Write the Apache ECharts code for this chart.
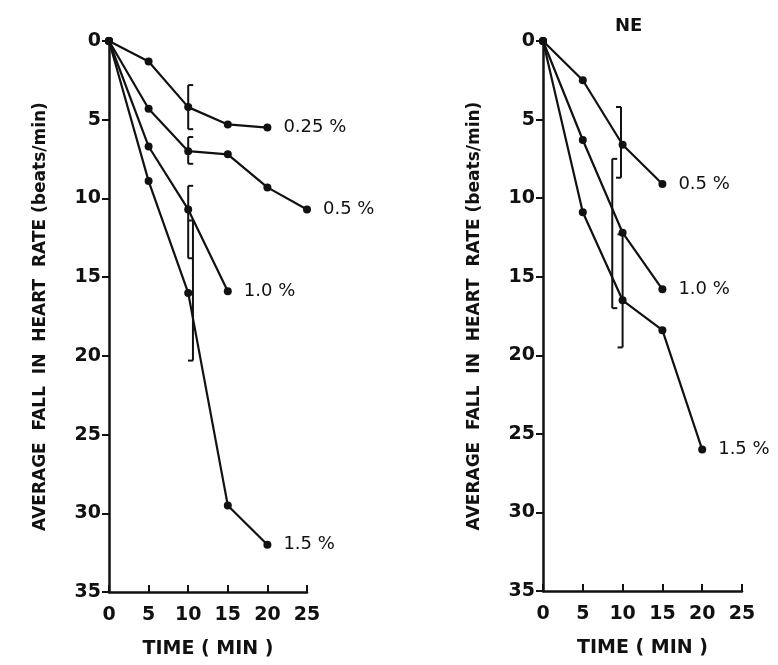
<!DOCTYPE html>
<html>
<head>
<meta charset="utf-8">
<script src="https://cdn.jsdelivr.net/npm/echarts@6/dist/echarts.min.js"></script>
<style>html,body{margin:0;padding:0;background:#fff}#chart{width:778px;height:665px}</style>
</head>
<body>
<div id="chart"></div>
<script>
// left panel
var leftTimes = [0, 5, 10, 15, 20, 25];
var left025 = [0, 1.3, 4.2, 5.3, 5.5];
var left05 = [0, 4.3, 7.0, 7.2, 9.3, 10.7];
var left10 = [0, 6.7, 10.7, 15.9];
var left15 = [0, 8.9, 16.0, 29.5, 32.0];
// error bars: [x, low, high, cap direction]
var leftErr = [[10, 2.8, 5.6, 1], [10, 6.1, 7.8, 1], [10, 9.2, 13.8, 1], [10.6, 11.4, 20.3, -1]];

// right panel (NE)
var rightTimes = [0, 5, 10, 15, 20];
var right05 = [0, 2.5, 6.6, 9.1];
var right10 = [0, 6.3, 12.2, 15.8];
var right15 = [0, 10.9, 16.5, 18.4, 26.0];
var rightErr = [[9.8, 4.2, 8.7, -1], [8.7, 7.5, 17.0, 1], [10, 12.3, 19.5, -1]];

var textStyle = {color: '#111', fontFamily: 'DejaVu Sans', fontWeight: 'bold', fontSize: 19};

function pairs(times, vals) {
	return vals.map(function (v, i) { return [times[i], v]; });
}

function lineSeries(name, idx, times, vals) {
	var data = pairs(times, vals);
	return {
		name: name,
		type: 'line',
		xAxisIndex: idx,
		yAxisIndex: idx,
		data: data,
		symbol: 'circle',
		symbolSize: 8,
		lineStyle: {color: '#111', width: 2.2},
		itemStyle: {color: '#111'},
		label: {
			show: true,
			position: 'right',
			distance: 12,
			color: '#111',
			fontFamily: 'DejaVu Sans',
			fontSize: 18,
			formatter: function (p) { return p.dataIndex === data.length - 1 ? name : ''; }
		},
		animation: false
	};
}

function errSeries(idx, data) {
	return {
		type: 'custom',
		xAxisIndex: idx,
		yAxisIndex: idx,
		data: data,
		renderItem: function (params, api) {
			var top = api.coord([api.value(0), api.value(1)]);
			var bot = api.coord([api.value(0), api.value(2)]);
			var d = api.value(3) * 5;
			var st = {stroke: '#111', lineWidth: 2, fill: null};
			return {
				type: 'group',
				children: [
					{type: 'line', shape: {x1: top[0], y1: top[1], x2: bot[0], y2: bot[1]}, style: st},
					{type: 'line', shape: {x1: top[0], y1: top[1], x2: top[0] + d, y2: top[1]}, style: st},
					{type: 'line', shape: {x1: bot[0], y1: bot[1], x2: bot[0] + d, y2: bot[1]}, style: st}
				]
			};
		},
		animation: false
	};
}

function xAxis(idx) {
	return {
		type: 'value', gridIndex: idx, min: 0, max: 25, interval: 5, position: 'bottom',
		name: 'TIME ( MIN )', nameLocation: 'middle', nameGap: 48,
		nameTextStyle: textStyle,
		axisLine: {onZero: false, lineStyle: {color: '#111', width: 2.5}},
		axisTick: {inside: true, length: 7, lineStyle: {width: 2}},
		axisLabel: Object.assign({margin: 14}, textStyle),
		splitLine: {show: false}
	};
}

function yAxis(idx) {
	return {
		type: 'value', gridIndex: idx, min: 0, max: 35, interval: 5, inverse: true,
		name: 'AVERAGE  FALL  IN  HEART  RATE (beats/min)', nameLocation: 'middle', nameGap: 60,
		nameTextStyle: {color: '#111', fontFamily: 'DejaVu Sans', fontWeight: 'bold', fontSize: 17},
		axisLine: {onZero: false, lineStyle: {color: '#111', width: 2.5}},
		axisTick: {length: 7, lineStyle: {width: 2}},
		axisLabel: textStyle,
		splitLine: {show: false}
	};
}

var option = {
	backgroundColor: '#fff',
	title: {
		text: 'NE', left: 610, top: 12,
		textStyle: {color: '#111', fontFamily: 'DejaVu Sans', fontWeight: 'bold', fontSize: 18}
	},
	grid: [
		{left: 109, top: 41, width: 198, height: 551},
		{left: 543, top: 41, width: 199, height: 550}
	],
	xAxis: [xAxis(0), xAxis(1)],
	yAxis: [yAxis(0), yAxis(1)],
	series: [
		lineSeries('0.25 %', 0, leftTimes, left025),
		lineSeries('0.5 %', 0, leftTimes, left05),
		lineSeries('1.0 %', 0, leftTimes, left10),
		lineSeries('1.5 %', 0, leftTimes, left15),
		errSeries(0, leftErr),
		lineSeries('0.5 %', 1, rightTimes, right05),
		lineSeries('1.0 %', 1, rightTimes, right10),
		lineSeries('1.5 %', 1, rightTimes, right15),
		errSeries(1, rightErr)
	]
};

var chart = echarts.init(document.getElementById('chart'));
chart.setOption(option);
</script>
</body>
</html>
